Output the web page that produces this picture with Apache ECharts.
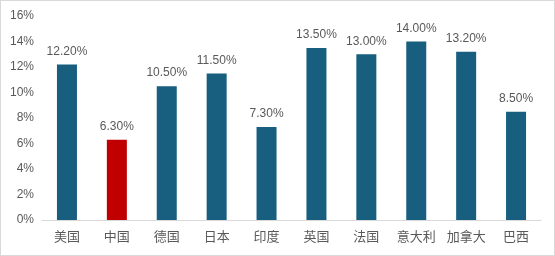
<!DOCTYPE html>
<html>
<head>
<meta charset="utf-8">
<script src="https://cdn.jsdelivr.net/npm/echarts@6/dist/echarts.min.js"></script>
<style>
html,body{margin:0;padding:0;background:#fff;}
#c{position:absolute;left:0;top:0;width:553px;height:254px;border:1px solid #d9d9d9;}
</style>
</head>
<body>
<div id="c"></div>
<script>
var categories = ['美国','中国','德国','日本','印度','英国','法国','意大利','加拿大','巴西'];
var values = [12.2, 6.3, 10.5, 11.5, 7.3, 13.5, 13.0, 14.0, 13.2, 8.5];
var highlight = '中国';
var yTicks = [0, 2, 4, 6, 8, 10, 12, 14, 16];

var chart = echarts.init(document.getElementById('c'), null, {renderer:'canvas'});
chart.setOption({
  animation:false,
  grid:{left:41, right:13, top:15, bottom:35},
  xAxis:{
    type:'category', data:categories,
    axisLine:{lineStyle:{color:'#d9d9d9', width:1}},
    axisTick:{show:false},
    axisLabel:{color:'#595959', fontSize:13, margin:10, fontFamily:'Noto Sans CJK SC', interval:0}
  },
  yAxis:{
    type:'value', min:yTicks[0], max:yTicks[yTicks.length-1], interval:2,
    splitLine:{show:false}, axisLine:{show:false}, axisTick:{show:false},
    axisLabel:{color:'#595959', fontSize:12, fontFamily:'Liberation Sans', margin:8, formatter:function(v){return v+'%';}}
  },
  series:[{
    type:'bar', barWidth:20,
    data:values.map(function(v,i){return {value:v, itemStyle:{color: categories[i]===highlight ? '#C00000' : '#175E7F'}};}),
    label:{show:true, position:'top', distance:7, color:'#595959', fontSize:12, fontFamily:'Liberation Sans',
      formatter:function(p){return p.value.toFixed(2)+'%';}}
  }]
});
</script>
</body>
</html>
